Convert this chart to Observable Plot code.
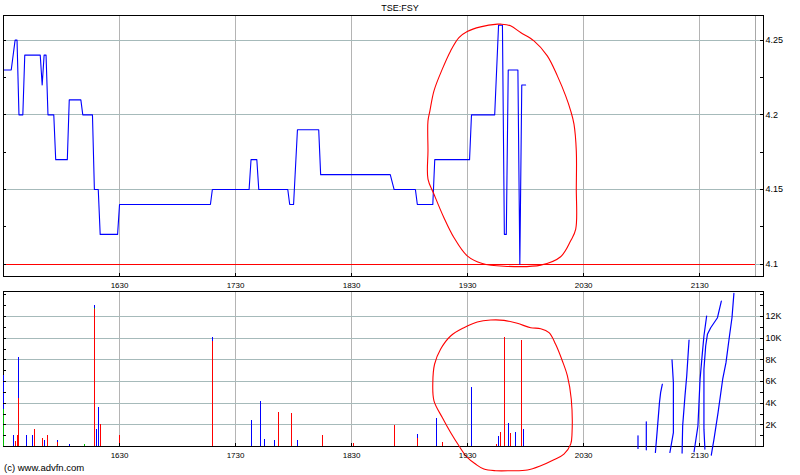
<!DOCTYPE html>
<html><head><meta charset="utf-8">
<script src="https://cdn.jsdelivr.net/npm/d3@7"></script>
<script src="https://cdn.jsdelivr.net/npm/@observablehq/plot@0.6"></script>
<style>
html,body{margin:0;padding:0;background:#fff;}
#wrap{position:relative;width:800px;height:475px;overflow:hidden;font-family:"Liberation Sans",Arial,sans-serif;color:#000;background:#fff;}
#title{position:absolute;left:0;width:800px;top:3px;text-align:center;font-size:9px;line-height:10px;}
#top{position:absolute;left:0;top:0;}
#bot{position:absolute;left:0;top:290px;}
#cap{position:absolute;left:4px;top:462px;font-size:9.5px;line-height:11px;}
svg{overflow:visible;}
</style></head><body>
<div id="wrap"><div id="top"></div><div id="bot"></div><div id="title"></div><div id="cap"></div></div>
<script>
// ---------- data ----------
const chartTitle = "TSE:FSY";
const captionText = "(c) www.advfn.com";
const sessionStart = "15:30";
const sessionEnd = "22:03";
const lastTime = "21:59";
const xTickLabels = ["1630", "1730", "1830", "1930", "2030", "2130"];
const priceTicks = [4.1, 4.15, 4.2, 4.25];
const priceDomain = [4.0918, 4.2665];
const priceRef = 4.1;
const volTicks = [2000, 4000, 6000, 8000, 10000, 12000];
const volDomain = [0, 14313];

const priceTimes = ["15:30","15:34","15:36","15:37","15:38","15:40","15:41","15:49","15:50","15:51","15:52","15:53","15:56","15:57","16:03","16:04","16:10","16:11","16:16","16:17","16:19","16:20","16:29","16:30","17:17","17:18","17:37","17:38","17:41","17:42","17:57","17:58","18:00","18:02","18:13","18:14","18:50","18:52","19:03","19:04","19:12","19:13","19:31","19:32","19:44","19:46","19:48","19:49","19:50","19:51","19:56","19:57","19:58","20:00"];
const priceValues = [4.23,4.23,4.25,4.25,4.20,4.20,4.24,4.24,4.22,4.24,4.24,4.20,4.20,4.17,4.17,4.21,4.21,4.20,4.20,4.15,4.15,4.12,4.12,4.14,4.14,4.15,4.15,4.17,4.17,4.15,4.15,4.14,4.14,4.19,4.19,4.16,4.16,4.15,4.15,4.14,4.14,4.17,4.17,4.20,4.20,4.26,4.26,4.12,4.12,4.23,4.23,4.10,4.22,4.22];

const volTimes = ["15:30","15:35","15:36","15:37","15:38","15:42","15:45","15:46","15:50","15:51","15:53","15:58","16:04","16:12","16:17","16:18","16:19","16:20","16:30","17:18","17:38","17:43","17:45","17:50","17:52","17:59","18:02","18:15","18:31","18:52","19:04","19:14","19:17","19:32","19:45","19:46","19:47","19:49","19:51","19:52","19:55","19:58","19:59"];
const volSell  = [0,0,430,1000,4460,0,0,1540,710,0,1000,340,0,0,12660,0,0,2000,1000,9740,0,0,0,0,3100,3010,0,990,250,1900,740,0,340,0,155,0,1260,10110,0,1170,0,9830,0];
const volBuy   = [3070,1000,0,0,3720,1000,1000,0,0,525,0,185,155,0,300,1540,3570,0,0,370,2370,4120,620,525,0,0,525,0,0,0,340,2550,0,5410,0,900,0,0,2090,0,1260,0,1540];
const volOther = [3450,0,0,0,0,0,0,0,0,0,0,0,0,150,100,0,0,0,0,0,0,0,0,0,0,0,0,0,0,0,0,0,0,0,0,0,0,0,0,0,0,0,0];

// hand-drawn annotations (minutes since midnight, value)
const priceCircleMin = [1187.1,1192.2,1197.4,1204.3,1211.2,1216.4,1220.7,1223.3,1225,1226.2,1226.2,1225.9,1223.3,1218.1,1207.8,1188.8,1177.6,1169.8,1162.9,1157.7,1152.6,1149.5,1149.5,1149.5,1150.5,1152.6,1156.9,1161.2,1165.5,1169.8,1176.7,1185.4];
const priceCircleVal = [4.2607,4.2596,4.2551,4.2495,4.2395,4.2261,4.2127,4.2027,4.1938,4.1759,4.1513,4.1235,4.1157,4.105,4.0994,4.0987,4.1005,4.1056,4.1179,4.1313,4.1469,4.157,4.1759,4.196,4.2027,4.2161,4.2306,4.2428,4.2517,4.2558,4.2589,4.2607];
const volCircleMin = [1181.9,1188.8,1195.7,1202.6,1207.8,1212.1,1215.5,1219,1221.6,1223.6,1224,1223.3,1219.8,1214.6,1207.8,1200.9,1192.2,1184.5,1178.4,1174.1,1169.8,1165.5,1161.2,1156.9,1152.6,1152,1152.9,1156,1161.2,1168.1,1175];
const volCircleVal = [11678,11650,11374,10968,10876,10507,9438,7899,6516,4369,1290,221,-700,-1226,-1779,-2175,-2240,-2240,-2083,-1622,-1014,65,1290,2673,4212,5899,7595,8977,10203,10968,11494];
const scribbleA = [[1258.1,986],[1258.1,-184]];
const scribbleB = [[1262.4,2277],[1262.4,-304]];
const scribbleC = [[1267.1,-553],[1268.1,1604],[1269.2,4055],[1269.8,4977],[1270.7,5751]];
const scribbleD = [[1274.6,-553],[1276.4,1290],[1276.4,5899],[1275.7,7991]];
const scribbleE = [[1280.9,-608],[1281.2,1908],[1282.4,4673],[1283.3,6516],[1284.5,9834]];
const scribbleF = [[1287.1,-488],[1289.1,1908],[1290.2,6212],[1291.4,8664],[1292.2,10203],[1293.6,12047]];
const scribbleG = [[1292.7,-240],[1292.2,1604],[1292.2,7134],[1293.1,9281],[1294,10360],[1295.7,10968],[1299.2,11890],[1301.2,13429]];
const scribbleH = [[1296,-793],[1297.4,682],[1299.5,3134],[1301.9,6212],[1303.6,7742],[1305.4,10203],[1306.7,11890],[1307.7,14139]];

// ---------- helpers ----------
const toMin = s => s.includes(":") ? (([h, m]) => h * 60 + m)(s.split(":").map(Number)) : (+s.slice(0, 2)) * 60 + (+s.slice(2));
const hhmm = m => String(Math.floor(m / 60)).padStart(2, "0") + String(Math.round(m % 60)).padStart(2, "0");
const xStart = toMin(sessionStart), xEnd = toMin(sessionEnd), xLast = toMin(lastTime);
const xTickVals = xTickLabels.map(toMin);
const crisp = {shapeRendering: "crispEdges"};
const baseStyle = {fontFamily: "'Liberation Sans', Arial, sans-serif", fontSize: "9px", color: "#000", background: "transparent", overflow: "visible"};
const minorP = d3.range(0, 7).map(i => +(4.1 + i * 0.025).toFixed(3));
const minorV = d3.range(1000, 14001, 1000);

document.getElementById("title").textContent = chartTitle;
document.getElementById("cap").textContent = captionText;

// ---------- price panel ----------
const price = priceTimes.map((t, i) => ({t: toMin(t), p: priceValues[i]}));
const circ1 = priceCircleMin.map((m, i) => ({t: m, p: priceCircleVal[i]}));

const topChart = Plot.plot({
  width: 800, height: 290, marginTop: 15, marginBottom: 14, marginLeft: 3, marginRight: 37,
  x: {domain: [xStart, xEnd]},
  y: {domain: priceDomain},
  style: baseStyle,
  marks: [
    Plot.gridX({ticks: xTickVals, stroke: "#b4b4b4", strokeOpacity: 1, ...crisp}),
    Plot.ruleX([xLast], {stroke: "#a8a8a8", ...crisp}),
    Plot.gridY({ticks: priceTicks, stroke: "#a6baba", strokeOpacity: 1, ...crisp}),
    Plot.ruleY([priceRef], {x1: xStart, x2: xLast, stroke: "#ff0000", ...crisp}),
    Plot.line(price, {x: "t", y: "p", stroke: "#0000ff", strokeWidth: 1.1}),
    Plot.line(circ1, {x: "t", y: "p", stroke: "#ff0000", strokeWidth: 1.1, curve: "catmull-rom-closed"}),
    Plot.frame({stroke: "#000", ...crisp}),
    Plot.ruleY(minorP, {x1: xEnd, x2: xEnd, insetLeft: -3, stroke: "#000", ...crisp}),
    Plot.ruleY(minorP, {x1: xStart, x2: xStart, insetRight: -3, stroke: "#000", ...crisp}),
    Plot.ruleX(xTickVals, {y1: priceDomain[0], y2: priceDomain[0], insetTop: -3, stroke: "#000", ...crisp}),
    Plot.axisX({ticks: xTickVals, anchor: "bottom", tickSize: 0, tickPadding: 6, tickFormat: hhmm, fontSize: 8, label: null}),
    Plot.axisY({ticks: priceTicks, anchor: "right", tickSize: 0, tickPadding: 2, tickFormat: d => String(+d.toFixed(3)), fontSize: 9, label: null})
  ]
});
document.getElementById("top").appendChild(topChart);

// ---------- volume panel ----------
const bars = [];
volTimes.forEach((t, i) => {
  let base = 0;
  [["sell", volSell[i]], ["other", volOther[i]], ["buy", volBuy[i]]].forEach(([k, v]) => {
    if (v > 0) { bars.push({t: toMin(t), y1: base, y2: base + v, k}); base += v; }
  });
});
const circ2 = volCircleMin.map((m, i) => ({t: m, v: volCircleVal[i]}));
const scribbles = [scribbleA, scribbleB, scribbleC, scribbleD, scribbleE, scribbleF, scribbleG, scribbleH]
  .flatMap((s, id) => s.map(([t, v]) => ({id, t, v})));

const barStyle = {x: "t", y1: "y1", y2: "y2", strokeWidth: 1, ...crisp};
const botChart = Plot.plot({
  width: 800, height: 185, marginTop: 1, marginBottom: 29, marginLeft: 3, marginRight: 37,
  x: {domain: [xStart, xEnd]},
  y: {domain: volDomain},
  style: baseStyle,
  marks: [
    Plot.gridX({ticks: xTickVals, stroke: "#b4b4b4", strokeOpacity: 1, ...crisp}),
    Plot.ruleX([xLast], {stroke: "#a8a8a8", ...crisp}),
    Plot.gridY({ticks: volTicks, stroke: "#a6baba", strokeOpacity: 1, ...crisp}),
    Plot.frame({stroke: "#000", ...crisp}),
    Plot.ruleX(bars.filter(d => d.k === "sell"), {...barStyle, stroke: "#ff0000"}),
    Plot.ruleX(bars.filter(d => d.k === "other"), {...barStyle, stroke: "#00c000"}),
    Plot.ruleX(bars.filter(d => d.k === "buy"), {...barStyle, stroke: "#0000ff"}),
    Plot.ruleY(minorV, {x1: xEnd, x2: xEnd, insetLeft: -3, stroke: "#000", ...crisp}),
    Plot.ruleY(minorV, {x1: xStart, x2: xStart, insetRight: -3, stroke: "#000", ...crisp}),
    Plot.ruleX(xTickVals, {y1: 0, y2: 0, insetTop: -3, stroke: "#000", ...crisp}),
    Plot.line(circ2, {x: "t", y: "v", stroke: "#ff0000", strokeWidth: 1.1, curve: "catmull-rom-closed"}),
    Plot.line(scribbles, {x: "t", y: "v", z: "id", stroke: "#0000ff", strokeWidth: 1.2}),
    Plot.axisX({ticks: xTickVals, anchor: "bottom", tickSize: 0, tickPadding: 6, tickFormat: hhmm, fontSize: 8, label: null}),
    Plot.axisY({ticks: volTicks, anchor: "right", tickSize: 0, tickPadding: 2, tickFormat: d => d / 1000 + "K", fontSize: 9, label: null})
  ]
});
document.getElementById("bot").appendChild(botChart);
</script>
</body></html>
